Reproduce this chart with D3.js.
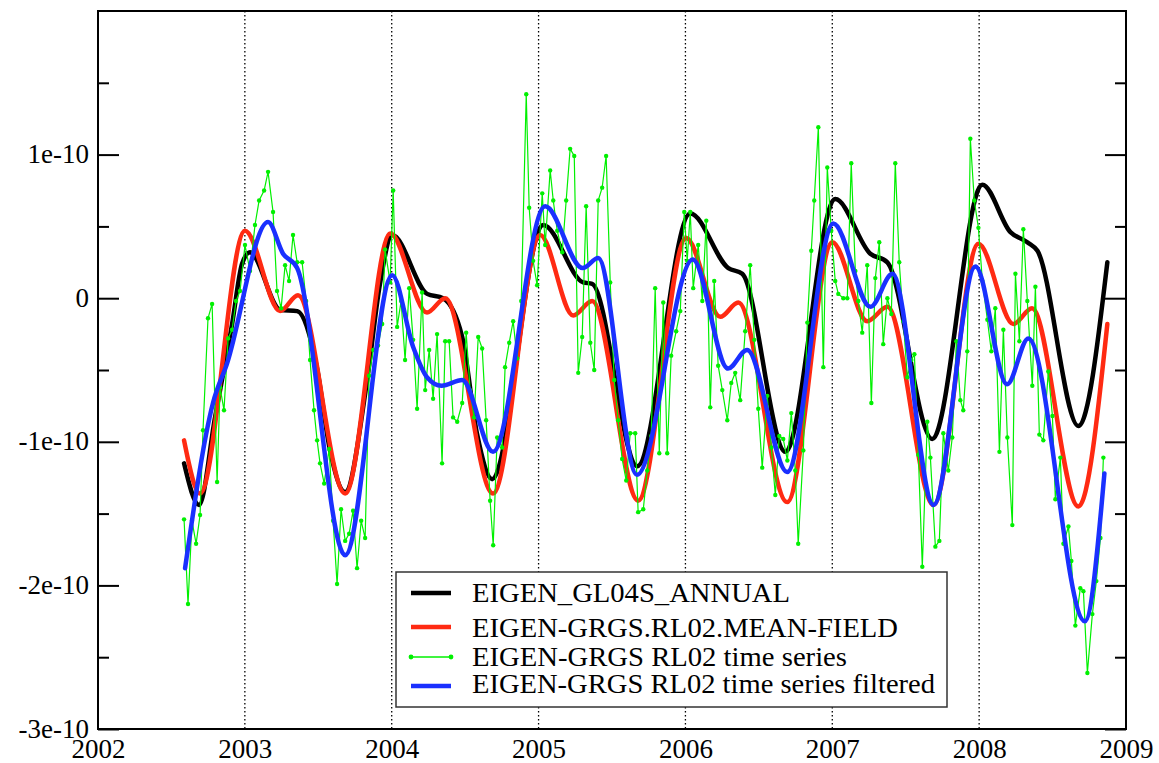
<!DOCTYPE html>
<html>
<head>
<meta charset="utf-8">
<script src="https://cdn.jsdelivr.net/npm/d3@7"></script>
</head>
<body style="margin:0;background:#fff">
<svg id="chart" width="1159" height="763" style="display:block"></svg>
<script>
// ---------- DATA (values in units of 1e-10) ----------
const xTicks = [2002, 2003, 2004, 2005, 2006, 2007, 2008, 2009];
const xTickLabels = ["2002", "2003", "2004", "2005", "2006", "2007", "2008", "2009"];
const yTicks = [-3, -2, -1, 0, 1];
const yTickLabels = ["-3e-10", "-2e-10", "-1e-10", "0", "1e-10"];
const yMinorTicks = [-2.5, -1.5, -0.5, 0.5, 1.5];

const seriesNames = [
  "EIGEN_GL04S_ANNUAL",
  "EIGEN-GRGS.RL02.MEAN-FIELD",
  "EIGEN-GRGS RL02 time series",
  "EIGEN-GRGS RL02 time series filtered"
];

// EIGEN_GL04S_ANNUAL (black)
const blackYears = [2002.586, 2002.688, 2002.797, 2002.913, 2002.981, 2003.035, 2003.240, 2003.356, 2003.49, 2003.58, 2003.683,
  2003.83, 2003.92, 2004.003, 2004.241, 2004.350, 2004.48, 2004.58, 2004.684, 2005.031, 2005.304, 2005.365, 2005.672,
  2006.033, 2006.292, 2006.387, 2006.680, 2007.020, 2007.259, 2007.375, 2007.681, 2008.022, 2008.213, 2008.328, 2008.397,
  2008.676, 2008.873];
const blackVals = [-1.15, -1.44, -0.83, -0.18, 0.24, 0.32, -0.08, -0.09, -0.48, -1.06, -1.35,
  -0.59, 0.10, 0.44, 0.03, 0.00, -0.27, -0.94, -1.26, 0.51, 0.11, 0.10, -1.17,
  0.59, 0.21, 0.17, -1.07, 0.69, 0.31, 0.25, -0.98, 0.79, 0.46, 0.39, 0.33,
  -0.89, 0.25];

// EIGEN-GRGS.RL02.MEAN-FIELD (red)
const redYears = [2002.586, 2002.695, 2003.001, 2003.240, 2003.362, 2003.683, 2003.990, 2004.240, 2004.364, 2004.690,
  2005.011, 2005.236, 2005.365, 2005.678, 2006.005, 2006.237, 2006.360, 2006.693, 2007.000, 2007.238, 2007.375,
  2007.690, 2007.995, 2008.233, 2008.360, 2008.676, 2008.873];
const redVals = [-0.99, -1.36, 0.47, -0.09, 0.02, -1.36, 0.45, -0.10, 0.00, -1.36,
  0.44, -0.12, -0.02, -1.41, 0.42, -0.13, -0.03, -1.42, 0.39, -0.16, -0.06,
  -1.44, 0.38, -0.18, -0.07, -1.45, -0.18];

// EIGEN-GRGS RL02 time series (green)
const greenYears = [2002.586, 2002.613, 2002.640, 2002.668, 2002.695, 2002.715, 2002.749, 2002.777, 2002.811, 2002.831,
  2002.858, 2002.886, 2002.913, 2002.940, 2002.967, 2003.001, 2003.035, 2003.069, 2003.097, 2003.131,
  2003.158, 2003.192, 2003.219, 2003.247, 2003.274, 2003.301, 2003.328, 2003.356, 2003.390, 2003.417,
  2003.444, 2003.471, 2003.492, 2003.512, 2003.540, 2003.574, 2003.601, 2003.628, 2003.655, 2003.683,
  2003.710, 2003.737, 2003.764, 2003.792, 2003.819, 2003.846, 2003.874, 2003.907, 2003.935, 2003.955,
  2003.989, 2004.010, 2004.037, 2004.064, 2004.091, 2004.119, 2004.146, 2004.173, 2004.207, 2004.228,
  2004.255, 2004.282, 2004.309, 2004.343, 2004.364, 2004.391, 2004.418, 2004.446, 2004.480, 2004.507,
  2004.534, 2004.561, 2004.589, 2004.616, 2004.643, 2004.670, 2004.691, 2004.718, 2004.752, 2004.772,
  2004.800, 2004.827, 2004.854, 2004.882, 2004.916, 2004.936, 2004.963, 2004.990, 2005.025, 2005.045,
  2005.079, 2005.100, 2005.127, 2005.161, 2005.188, 2005.215, 2005.243, 2005.270, 2005.297, 2005.324,
  2005.352, 2005.379, 2005.406, 2005.433, 2005.460, 2005.488, 2005.515, 2005.542, 2005.569, 2005.597,
  2005.624, 2005.658, 2005.678, 2005.713, 2005.740, 2005.767, 2005.794, 2005.822, 2005.849, 2005.876,
  2005.903, 2005.937, 2005.965, 2005.992, 2006.012, 2006.033, 2006.053, 2006.087, 2006.115, 2006.142,
  2006.169, 2006.196, 2006.223, 2006.251, 2006.285, 2006.312, 2006.339, 2006.373, 2006.407, 2006.441,
  2006.469, 2006.496, 2006.523, 2006.557, 2006.585, 2006.612, 2006.639, 2006.666, 2006.694, 2006.721,
  2006.748, 2006.768, 2006.803, 2006.830, 2006.857, 2006.877, 2006.905, 2006.939, 2006.966, 2006.993,
  2007.020, 2007.041, 2007.075, 2007.102, 2007.129, 2007.157, 2007.177, 2007.204, 2007.238, 2007.266,
  2007.293, 2007.320, 2007.347, 2007.375, 2007.402, 2007.429, 2007.456, 2007.484, 2007.511, 2007.538,
  2007.559, 2007.586, 2007.613, 2007.647, 2007.668, 2007.702, 2007.729, 2007.756, 2007.790, 2007.817,
  2007.845, 2007.872, 2007.892, 2007.919, 2007.940, 2007.967, 2007.995, 2008.022, 2008.056, 2008.083,
  2008.110, 2008.138, 2008.165, 2008.192, 2008.226, 2008.247, 2008.274, 2008.301, 2008.328, 2008.362,
  2008.383, 2008.410, 2008.437, 2008.471, 2008.499, 2008.519, 2008.553, 2008.574, 2008.608, 2008.628,
  2008.655, 2008.689, 2008.710, 2008.737, 2008.771, 2008.798, 2008.826, 2008.846];
const greenVals = [-1.54, -2.13, -1.55, -1.71, -1.51, -0.92, -0.14, -0.04, -1.28, -0.62,
  -0.78, -0.28, -0.22, -0.02, 0.05, 0.37, 0.19, 0.51, 0.68, 0.75,
  0.88, 0.60, 0.05, -0.07, 0.23, 0.12, 0.44, 0.25, 0.25, -0.02,
  -0.43, -0.78, -0.99, -1.15, -1.29, -1.05, -1.55, -1.99, -1.47, -1.69,
  -1.64, -1.48, -1.88, -1.55, -1.67, -0.54, -0.36, -0.33, -0.18, 0.34,
  0.11, 0.75, -0.20, -0.02, -0.43, 0.07, -0.29, -0.77, 0.04, -0.64,
  -0.36, -0.70, -0.25, -1.15, -0.30, -0.30, -0.83, -0.86, -0.73, -0.24,
  -0.64, -0.83, -0.27, -0.35, -0.85, -1.41, -1.72, -0.97, -1.04, -0.48,
  -0.31, -0.16, -0.42, -0.02, 1.42, 0.63, 0.26, 0.09, 0.73, 0.37,
  0.89, 0.68, 0.47, 0.32, 0.68, 1.04, 0.99, -0.52, -0.27, 0.64,
  -0.31, -0.50, 0.68, 0.77, 0.99, 0.11, -0.57, -0.85, -1.12, -1.27,
  -0.94, -0.94, -1.49, -1.47, -1.20, -0.96, 0.07, -1.08, -0.03, -1.08,
  -0.40, -0.23, -0.09, 0.60, 0.26, 0.60, 0.07, 0.37, -0.02, 0.54,
  -0.76, 0.12, -0.47, -0.64, -0.85, -0.59, -0.52, -0.71, -0.23, 0.23,
  -0.29, -0.77, -1.18, -0.68, -1.04, -1.37, -0.96, -0.98, -1.13, -0.80,
  -1.20, -1.71, -1.06, -0.17, 0.33, 0.68, 1.19, -0.48, 0.91, 0.47,
  0.12, 0.03, 0.00, 0.00, 0.94, 0.19, -0.02, -0.24, 0.23, -0.73,
  0.14, 0.39, -0.32, 0.00, -0.11, 0.94, 0.25, -0.16, -0.55, -0.43,
  -0.39, -1.09, -1.87, -0.86, -1.11, -1.73, -1.69, -0.94, -1.20, -0.97,
  -0.30, -0.71, -0.78, -0.37, 1.11, 0.68, 0.49, 0.12, -0.15, -0.37,
  -0.07, -1.07, -0.22, -0.97, -1.58, 0.17, -0.30, 0.48, -0.02, -0.61,
  0.08, -0.95, -0.99, -0.51, -0.82, -1.40, -1.11, -1.71, -1.59, -1.83,
  -2.28, -2.02, -2.04, -2.61, -2.20, -1.97, -1.67, -1.11];

// EIGEN-GRGS RL02 time series filtered (blue)
const blueYears = [2002.593, 2002.783, 2002.877, 2003.158, 2003.260, 2003.356, 2003.683, 2004.003, 2004.146, 2004.240,
  2004.340, 2004.480, 2004.690, 2005.045, 2005.300, 2005.406, 2005.670, 2006.050, 2006.290, 2006.420,
  2006.693, 2007.007, 2007.260, 2007.410, 2007.690, 2007.975, 2008.190, 2008.335, 2008.720, 2008.853];
const blueVals = [-1.88, -0.73, -0.46, 0.53, 0.31, 0.21, -1.79, 0.16, -0.34, -0.55,
  -0.61, -0.57, -1.07, 0.64, 0.21, 0.28, -1.23, 0.27, -0.49, -0.36,
  -1.21, 0.52, -0.06, 0.17, -1.44, 0.22, -0.60, -0.28, -2.25, -1.22];

const seriesColors = ["#000000", "#ff2a12", "#00f000", "#1a30ff"];

// ---------- LAYOUT ----------
const FONT = "'Liberation Serif'";
const svg = d3.select("#chart");
const W = 1159, H = 763;
const plot = { left: 98, right: 1126, top: 11, bottom: 729 };

svg.append("rect").attr("width", W).attr("height", H).attr("fill", "#fff");

const x = d3.scaleLinear().domain([2002, 2009]).range([plot.left, plot.right]);
const y = d3.scaleLinear().domain([-3, 2]).range([plot.bottom, plot.top]);

// vertical dotted grid lines at each year
svg.append("g").attr("class", "grid")
  .selectAll("line").data(xTicks.slice(1, -1)).join("line")
  .attr("x1", d => x(d)).attr("x2", d => x(d))
  .attr("y1", plot.top).attr("y2", plot.bottom)
  .attr("stroke", "#000").attr("stroke-width", 1.3)
  .attr("stroke-dasharray", "1.4,2.6");

// clip for data
svg.append("clipPath").attr("id", "clip")
  .append("rect").attr("x", plot.left).attr("y", plot.top)
  .attr("width", plot.right - plot.left).attr("height", plot.bottom - plot.top);

const dataG = svg.append("g").attr("clip-path", "url(#clip)");

function pts(xs, vs) { return xs.map((d, i) => [d, vs[i]]); }

const smooth = d3.line().x(d => x(d[0])).y(d => y(d[1])).curve(d3.curveMonotoneX);
const straight = d3.line().x(d => x(d[0])).y(d => y(d[1]));

const blackPts = pts(blackYears, blackVals);
const redPts = pts(redYears, redVals);
const greenPts = pts(greenYears, greenVals);
const bluePts = pts(blueYears, blueVals);

dataG.append("path").datum(blackPts).attr("d", smooth)
  .attr("fill", "none").attr("stroke", seriesColors[0]).attr("stroke-width", 4.5)
  .attr("stroke-linejoin", "round").attr("stroke-linecap", "round");
dataG.append("path").datum(redPts).attr("d", smooth)
  .attr("fill", "none").attr("stroke", seriesColors[1]).attr("stroke-width", 4.5)
  .attr("stroke-linejoin", "round").attr("stroke-linecap", "round");
dataG.append("path").datum(greenPts).attr("d", straight)
  .attr("fill", "none").attr("stroke", seriesColors[2]).attr("stroke-width", 1.2);
dataG.append("g").selectAll("circle").data(greenPts).join("circle")
  .attr("cx", d => x(d[0])).attr("cy", d => y(d[1])).attr("r", 2.2)
  .attr("fill", seriesColors[2]);
dataG.append("path").datum(bluePts).attr("d", smooth)
  .attr("fill", "none").attr("stroke", seriesColors[3]).attr("stroke-width", 4.5)
  .attr("stroke-linejoin", "round").attr("stroke-linecap", "round");

// ---------- AXES ----------
const fontSize = 27;

const yAxisL = d3.axisLeft(y).tickValues(yTicks)
  .tickFormat((d, i) => yTickLabels[i]).tickSizeInner(-21).tickSizeOuter(0).tickPadding(9);
const gL = svg.append("g").attr("transform", `translate(${plot.left},0)`).call(yAxisL);
gL.attr("font-family", null).attr("font-size", null);
gL.select(".domain").remove();
gL.selectAll("line").attr("stroke", "#000").attr("stroke-width", 2);
gL.selectAll("text").style("font-family", FONT).style("font-size", fontSize + "px").attr("dy", "0.3em");

const yMinorL = d3.axisLeft(y).tickValues(yMinorTicks).tickFormat("").tickSizeInner(-11).tickSizeOuter(0);
const gLm = svg.append("g").attr("transform", `translate(${plot.left},0)`).call(yMinorL);
gLm.select(".domain").remove();
gLm.selectAll("line").attr("stroke", "#000").attr("stroke-width", 2);

const yAxisR = d3.axisRight(y).tickValues(yTicks).tickFormat("").tickSizeInner(-21).tickSizeOuter(0);
const gR = svg.append("g").attr("transform", `translate(${plot.right},0)`).call(yAxisR);
gR.select(".domain").remove();
gR.selectAll("line").attr("stroke", "#000").attr("stroke-width", 2);

const yMinorR = d3.axisRight(y).tickValues(yMinorTicks).tickFormat("").tickSizeInner(-11).tickSizeOuter(0);
const gRm = svg.append("g").attr("transform", `translate(${plot.right},0)`).call(yMinorR);
gRm.select(".domain").remove();
gRm.selectAll("line").attr("stroke", "#000").attr("stroke-width", 2);

const xAxis = d3.axisBottom(x).tickValues(xTicks)
  .tickFormat((d, i) => xTickLabels[i]).tickSizeInner(0).tickSizeOuter(0).tickPadding(10);
const gX = svg.append("g").attr("transform", `translate(0,${plot.bottom})`).call(xAxis);
gX.attr("font-family", null).attr("font-size", null);
gX.select(".domain").remove();
gX.selectAll("line").remove();
gX.selectAll("text").style("font-family", FONT).style("font-size", fontSize + "px");

// frame
svg.append("rect")
  .attr("x", plot.left).attr("y", plot.top)
  .attr("width", plot.right - plot.left).attr("height", plot.bottom - plot.top)
  .attr("fill", "none").attr("stroke", "#000").attr("stroke-width", 2);

// ---------- LEGEND ----------
const legend = svg.append("g");
legend.append("rect")
  .attr("x", 396).attr("y", 572).attr("width", 551).attr("height", 135)
  .attr("fill", "#fff").attr("stroke", "#333").attr("stroke-width", 1.5);

const legendBaselines = [602, 637, 666, 693];
const legendLineY = [593, 627, 657, 686];
const legendWidths = [318, 426, 375, 463];
seriesNames.forEach((name, i) => {
  const ly = legendLineY[i];
  if (i === 2) {
    legend.append("line").attr("x1", 411).attr("x2", 451).attr("y1", ly).attr("y2", ly)
      .attr("stroke", seriesColors[2]).attr("stroke-width", 1.5);
    [411, 451].forEach(cx => legend.append("circle").attr("cx", cx).attr("cy", ly).attr("r", 2.4).attr("fill", seriesColors[2]));
  } else {
    legend.append("line").attr("x1", 411).attr("x2", 451).attr("y1", ly).attr("y2", ly)
      .attr("stroke", seriesColors[i]).attr("stroke-width", 4.5);
  }
  legend.append("text")
    .attr("x", 472).attr("y", legendBaselines[i])
    .style("font-family", FONT).style("font-size", "27px")
    .attr("textLength", legendWidths[i]).attr("lengthAdjust", "spacingAndGlyphs")
    .text(name);
});
</script>
</body>
</html>
